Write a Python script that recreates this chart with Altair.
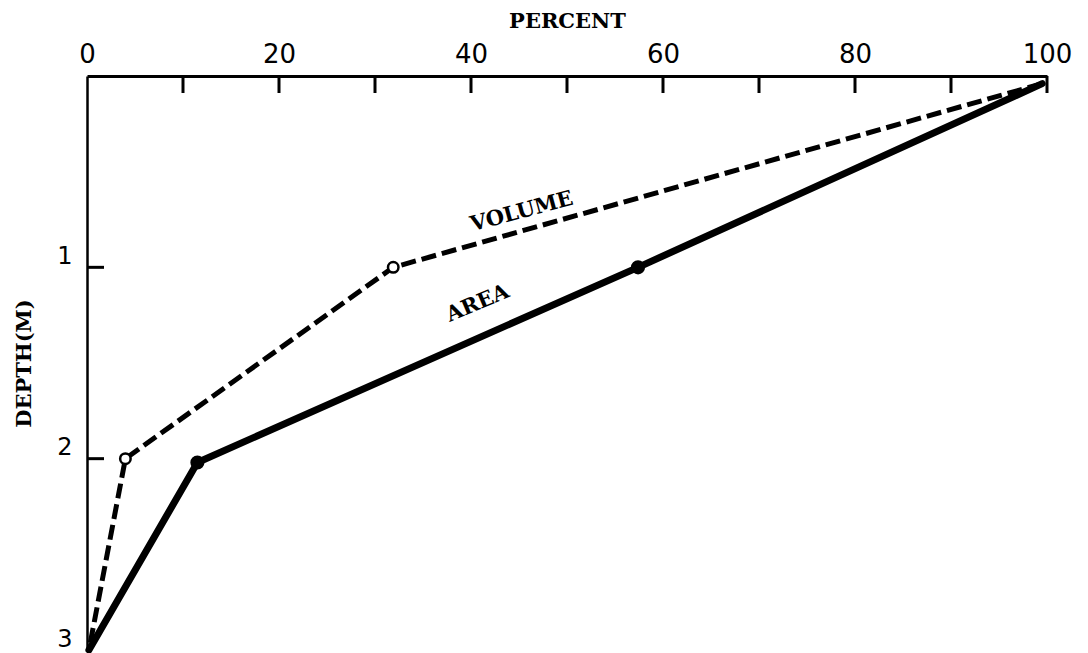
import altair as alt
import pandas as pd

# ---- data ----
area_depth = [0.04, 1.0, 2.02, 3.0]
area_pct = [99.5, 57.4, 11.5, 0.2]
volume_depth = [0.04, 1.0, 2.0, 3.0]
volume_pct = [99.5, 31.9, 4.0, 0.2]

x_label_values = [0, 20, 40, 60, 80, 100]
x_tick_values = [10, 20, 30, 40, 50, 60, 70, 80, 90, 100]
y_label_values = [1, 2, 3]
y_tick_values = [1, 2]

label_text = ["VOLUME", "AREA"]
label_pct = [45.3, 40.7]
label_depth = [0.71, 1.19]

W, H = 960, 574

area_df = pd.DataFrame({"pct": area_pct, "depth": area_depth})
vol_df = pd.DataFrame({"pct": volume_pct, "depth": volume_depth})
xt_df = pd.DataFrame({"pct": x_tick_values})
yt_df = pd.DataFrame({"depth": y_tick_values})
lab_df = pd.DataFrame({"text": label_text, "pct": label_pct, "depth": label_depth})

xs = alt.Scale(domain=[0, 100], nice=False, zero=False)
ys = alt.Scale(domain=[0, 3], reverse=True, nice=False, zero=False)

x_axis = alt.Axis(orient="top", values=x_label_values, ticks=False, grid=False,
                  domain=True, domainWidth=3, domainColor="black",
                  labelFont="DejaVu Sans", labelFontSize=26, labelColor="black",
                  labelPadding=9, labelFlush=False,
                  title="PERCENT", titleFont="DejaVu Serif", titleFontSize=21,
                  titleFontWeight="bold", titleColor="black", titlePadding=10)
y_axis = alt.Axis(orient="left", values=y_label_values, ticks=False, grid=False,
                  domain=True, domainWidth=2.5, domainColor="black",
                  labelFont="DejaVu Sans", labelFontSize=24, labelColor="black",
                  labelPadding=15, labelBaseline="bottom", labelOffset=1,
                  labelFlush=False,
                  title="DEPTH(M)", titleFont="DejaVu Serif", titleFontSize=21,
                  titleFontWeight="bold", titleColor="black", titlePadding=22)

X = alt.X("pct:Q", scale=xs, axis=x_axis, title="PERCENT")
Y = alt.Y("depth:Q", scale=ys, axis=y_axis, title="DEPTH(M)")

area_line = alt.Chart(area_df).mark_line(
    color="black", strokeWidth=7, strokeCap="round", strokeJoin="round"
).encode(x=X, y=Y, order=alt.Order("depth:Q"))

vol_line = alt.Chart(vol_df).mark_line(
    color="black", strokeWidth=5, strokeDash=[15, 6]
).encode(x=X, y=Y, order=alt.Order("depth:Q"))

area_pts = alt.Chart(area_df).transform_filter(
    (alt.datum.depth > 0.5) & (alt.datum.depth < 2.5)
).mark_circle(color="black", size=200, opacity=1).encode(x=X, y=Y)

vol_pts = alt.Chart(vol_df).transform_filter(
    (alt.datum.depth > 0.5) & (alt.datum.depth < 2.5)
).mark_point(shape="circle", filled=False, fill="white", fillOpacity=1,
             stroke="black", strokeWidth=2.5, size=110, opacity=1).encode(x=X, y=Y)

x_ticks = alt.Chart(xt_df).mark_rule(color="black", strokeWidth=3).encode(
    x=X, y=alt.value(0), y2=alt.value(17),
)

y_ticks = alt.Chart(yt_df).mark_rule(color="black", strokeWidth=3).encode(
    y=Y, x=alt.value(0), x2=alt.value(17),
)

vol_label = alt.Chart(lab_df).transform_filter(alt.datum.text == "VOLUME").mark_text(
    font="DejaVu Serif", fontSize=21, fontWeight="bold", color="black",
    angle=345, align="center", baseline="middle"
).encode(x=X, y=Y, text="text:N")

area_label = alt.Chart(lab_df).transform_filter(alt.datum.text == "AREA").mark_text(
    font="DejaVu Serif", fontSize=21, fontWeight="bold", color="black",
    angle=337, align="center", baseline="middle"
).encode(x=X, y=Y, text="text:N")

chart = alt.layer(
    area_line, vol_line, x_ticks, y_ticks, area_pts, vol_pts, vol_label, area_label
).properties(
    width=W, height=H,
    autosize=alt.AutoSizeParams(type="none"),
    padding={"left": 87, "top": 76, "right": 41, "bottom": 3},
    background="white",
).configure_view(stroke=None)

chart.save("out.html", embed_options={"renderer": "svg", "actions": False})
